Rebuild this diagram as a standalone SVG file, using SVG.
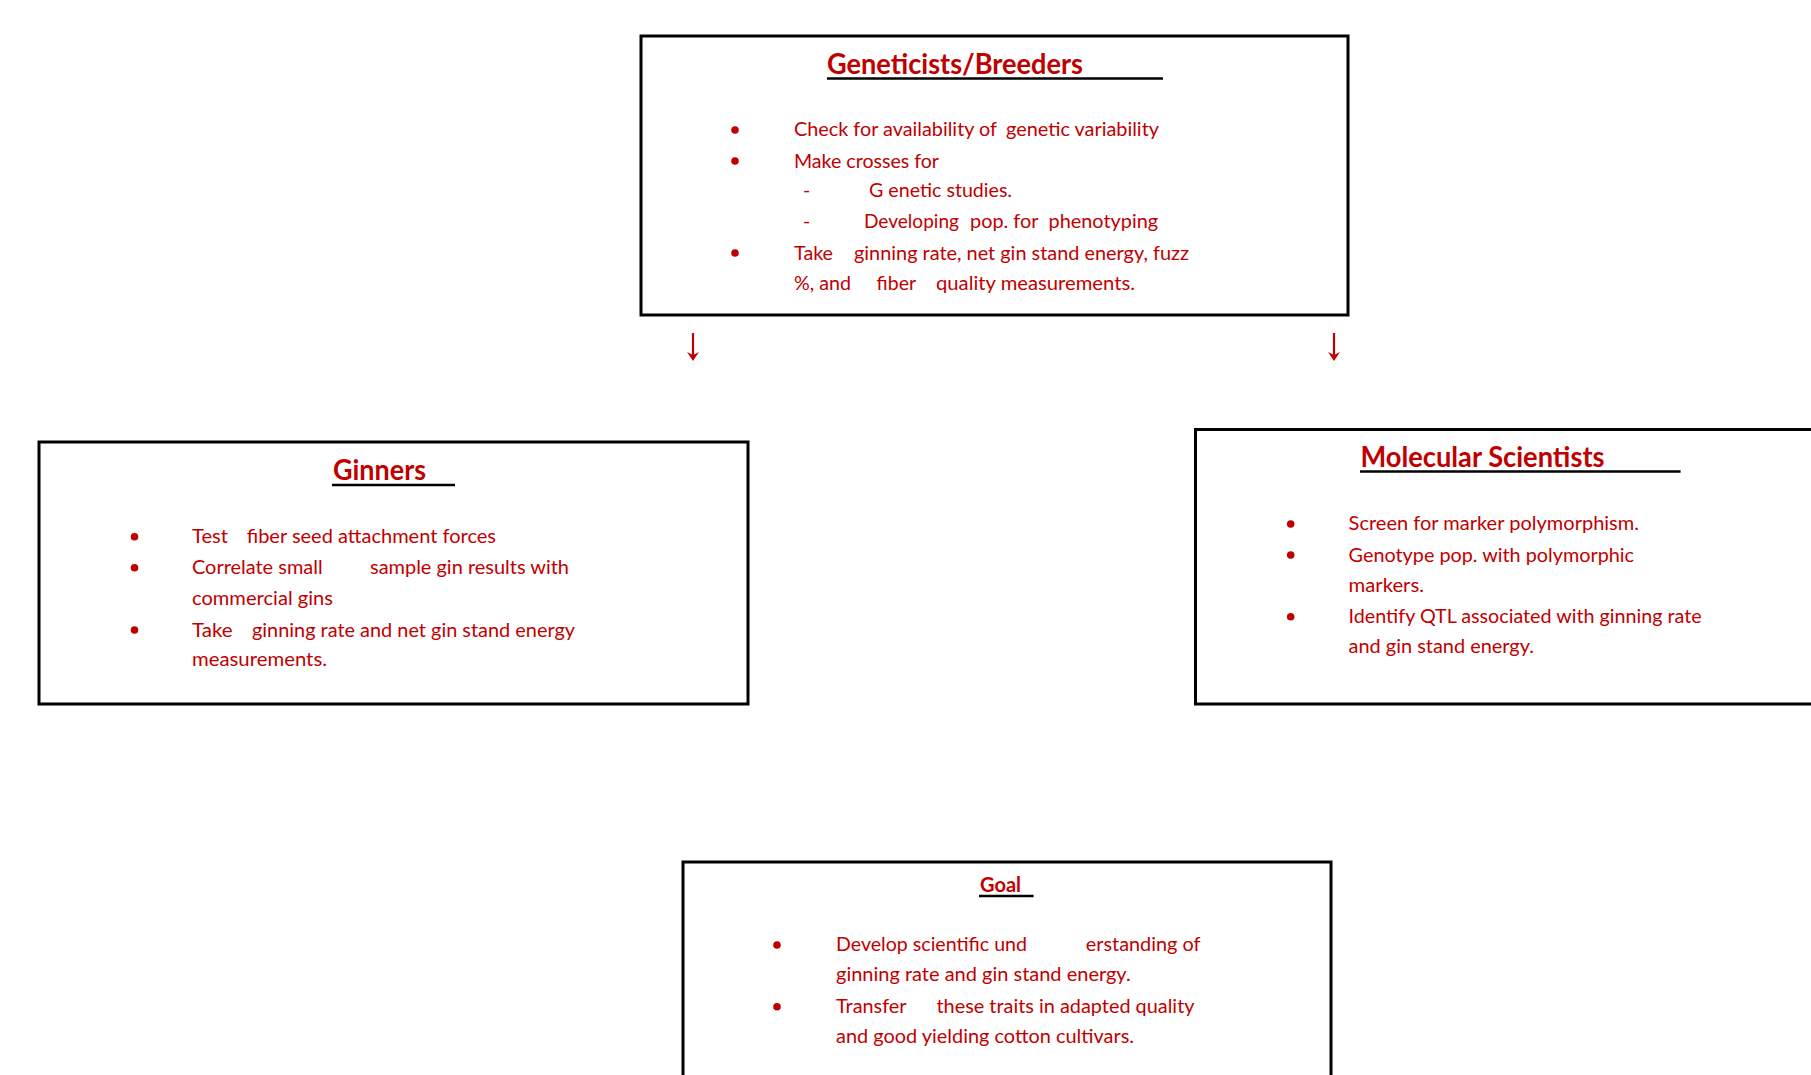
<svg xmlns="http://www.w3.org/2000/svg" width="1811" height="1075" viewBox="0 0 1811 1075">
<style>
.box{fill:#fff;stroke:#000;stroke-width:3}
.t{font-family:Lato,"Open Sans","Liberation Sans",sans-serif;font-size:19.5px;fill:#C00000}
.h{font-family:Lato,"Open Sans","Liberation Sans",sans-serif;font-weight:bold;font-size:28px;fill:#C00000}
.hs{font-size:20.5px}
.ul{stroke:#000;stroke-width:2.5}
.b{fill:#C00000}
.arr{stroke:#C00000;stroke-width:2.2;fill:none}
</style>
<defs>
<marker id="ah" viewBox="0 0 10 12" refX="9" refY="6" markerWidth="10" markerHeight="12" markerUnits="userSpaceOnUse" orient="auto">
<path d="M0,0 L9,6 L0,12 L4,6 Z" fill="#C00000"/>
</marker>
</defs>
<rect width="1811" height="1075" fill="#fff"/>

<g id="geneticists">
<rect class="box" x="641" y="36" width="707" height="279"/>
<text class="h" x="827" y="74" textLength="256" lengthAdjust="spacingAndGlyphs">Geneticists/Breeders</text>
<line class="ul" x1="827" y1="78.5" x2="1163" y2="78.5"/>
<circle class="b" cx="735" cy="130" r="3.8"/>
<text class="t" x="794" y="136" textLength="203" lengthAdjust="spacingAndGlyphs">Check for availability of</text>
<text class="t" x="1006" y="136" textLength="153" lengthAdjust="spacingAndGlyphs">genetic variability</text>
<circle class="b" cx="735" cy="161" r="3.8"/>
<text class="t" x="794" y="167.7" textLength="145" lengthAdjust="spacingAndGlyphs">Make crosses for</text>
<text class="t" x="803" y="196.7">-</text>
<text class="t" x="869" y="196.7" textLength="143" lengthAdjust="spacingAndGlyphs">G enetic studies.</text>
<text class="t" x="803" y="227.7">-</text>
<text class="t" x="864" y="227.7" textLength="95" lengthAdjust="spacingAndGlyphs">Developing</text>
<text class="t" x="970" y="227.7" textLength="68.5" lengthAdjust="spacingAndGlyphs">pop. for</text>
<text class="t" x="1048.6" y="227.7" textLength="109.5" lengthAdjust="spacingAndGlyphs">phenotyping</text>
<circle class="b" cx="735" cy="253" r="3.8"/>
<text class="t" x="794" y="260" textLength="39" lengthAdjust="spacingAndGlyphs">Take</text>
<text class="t" x="854" y="260" textLength="335" lengthAdjust="spacingAndGlyphs">ginning rate, net gin stand energy, fuzz</text>
<text class="t" x="794" y="289.5" textLength="57" lengthAdjust="spacingAndGlyphs">%, and</text>
<text class="t" x="876.6" y="289.5" textLength="39.4" lengthAdjust="spacingAndGlyphs">fiber</text>
<text class="t" x="936" y="289.5" textLength="199" lengthAdjust="spacingAndGlyphs">quality measurements.</text>
</g>

<g id="ginners">
<rect class="box" x="39" y="442" width="709" height="262"/>
<text class="h" x="333" y="480" textLength="93" lengthAdjust="spacingAndGlyphs">Ginners</text>
<line class="ul" x1="332" y1="485" x2="455" y2="485"/>
<circle class="b" cx="134.5" cy="536.7" r="3.8"/>
<text class="t" x="192" y="543.3" textLength="36" lengthAdjust="spacingAndGlyphs">Test</text>
<text class="t" x="246.7" y="543.3" textLength="249.3" lengthAdjust="spacingAndGlyphs">fiber seed attachment forces</text>
<circle class="b" cx="134.5" cy="567.7" r="3.8"/>
<text class="t" x="192" y="574" textLength="130.6" lengthAdjust="spacingAndGlyphs">Correlate small</text>
<text class="t" x="370" y="574" textLength="199" lengthAdjust="spacingAndGlyphs">sample gin results with</text>
<text class="t" x="192" y="605" textLength="141" lengthAdjust="spacingAndGlyphs">commercial gins</text>
<circle class="b" cx="134.5" cy="630" r="3.8"/>
<text class="t" x="192" y="636.7" textLength="40.7" lengthAdjust="spacingAndGlyphs">Take</text>
<text class="t" x="252" y="636.7" textLength="323" lengthAdjust="spacingAndGlyphs">ginning rate and net gin stand energy</text>
<text class="t" x="192" y="666" textLength="135" lengthAdjust="spacingAndGlyphs">measurements.</text>
</g>

<g id="molecular">
<rect class="box" x="1195.5" y="429.5" width="640" height="274.5"/>
<text class="h" x="1360.5" y="467.3" textLength="244" lengthAdjust="spacingAndGlyphs">Molecular Scientists</text>
<line class="ul" x1="1360" y1="471.5" x2="1680.6" y2="471.5"/>
<circle class="b" cx="1290.7" cy="524" r="3.8"/>
<text class="t" x="1348.6" y="530" textLength="290.4" lengthAdjust="spacingAndGlyphs">Screen for marker polymorphism.</text>
<circle class="b" cx="1290.7" cy="555" r="3.8"/>
<text class="t" x="1348.6" y="561.7" textLength="285.4" lengthAdjust="spacingAndGlyphs">Genotype pop. with polymorphic</text>
<text class="t" x="1348.6" y="591.7" textLength="75.4" lengthAdjust="spacingAndGlyphs">markers.</text>
<circle class="b" cx="1290.7" cy="616.7" r="3.8"/>
<text class="t" x="1348.6" y="622.7" textLength="353" lengthAdjust="spacingAndGlyphs">Identify QTL associated with ginning rate</text>
<text class="t" x="1348.6" y="653.3" textLength="185.4" lengthAdjust="spacingAndGlyphs">and gin stand energy.</text>
</g>

<g id="goal">
<rect class="box" x="683" y="862" width="648" height="240"/>
<text class="h hs" x="980" y="891.7" textLength="41" lengthAdjust="spacingAndGlyphs">Goal</text>
<line class="ul" x1="979" y1="896" x2="1033.6" y2="896"/>
<circle class="b" cx="777" cy="945" r="3.8"/>
<text class="t" x="836" y="950.7" textLength="191" lengthAdjust="spacingAndGlyphs">Develop scientific und</text>
<text class="t" x="1085.8" y="950.7" textLength="114.7" lengthAdjust="spacingAndGlyphs">erstanding of</text>
<text class="t" x="836" y="980.7" textLength="294.7" lengthAdjust="spacingAndGlyphs">ginning rate and gin stand energy.</text>
<circle class="b" cx="777" cy="1006.7" r="3.8"/>
<text class="t" x="836" y="1012.7" textLength="70.6" lengthAdjust="spacingAndGlyphs">Transfer</text>
<text class="t" x="936.5" y="1012.7" textLength="258" lengthAdjust="spacingAndGlyphs">these traits in adapted quality</text>
<text class="t" x="836" y="1042.7" textLength="298" lengthAdjust="spacingAndGlyphs">and good yielding cotton cultivars.</text>
</g>

<g id="connectors">
<line class="arr" x1="693" y1="333" x2="693" y2="356"/>
<path d="M687,352 L693,361 L699,352 L693,355 Z" fill="#C00000"/>
<line class="arr" x1="1334" y1="333" x2="1334" y2="356"/>
<path d="M1328,352 L1334,361 L1340,352 L1334,355 Z" fill="#C00000"/>
</g>
</svg>
